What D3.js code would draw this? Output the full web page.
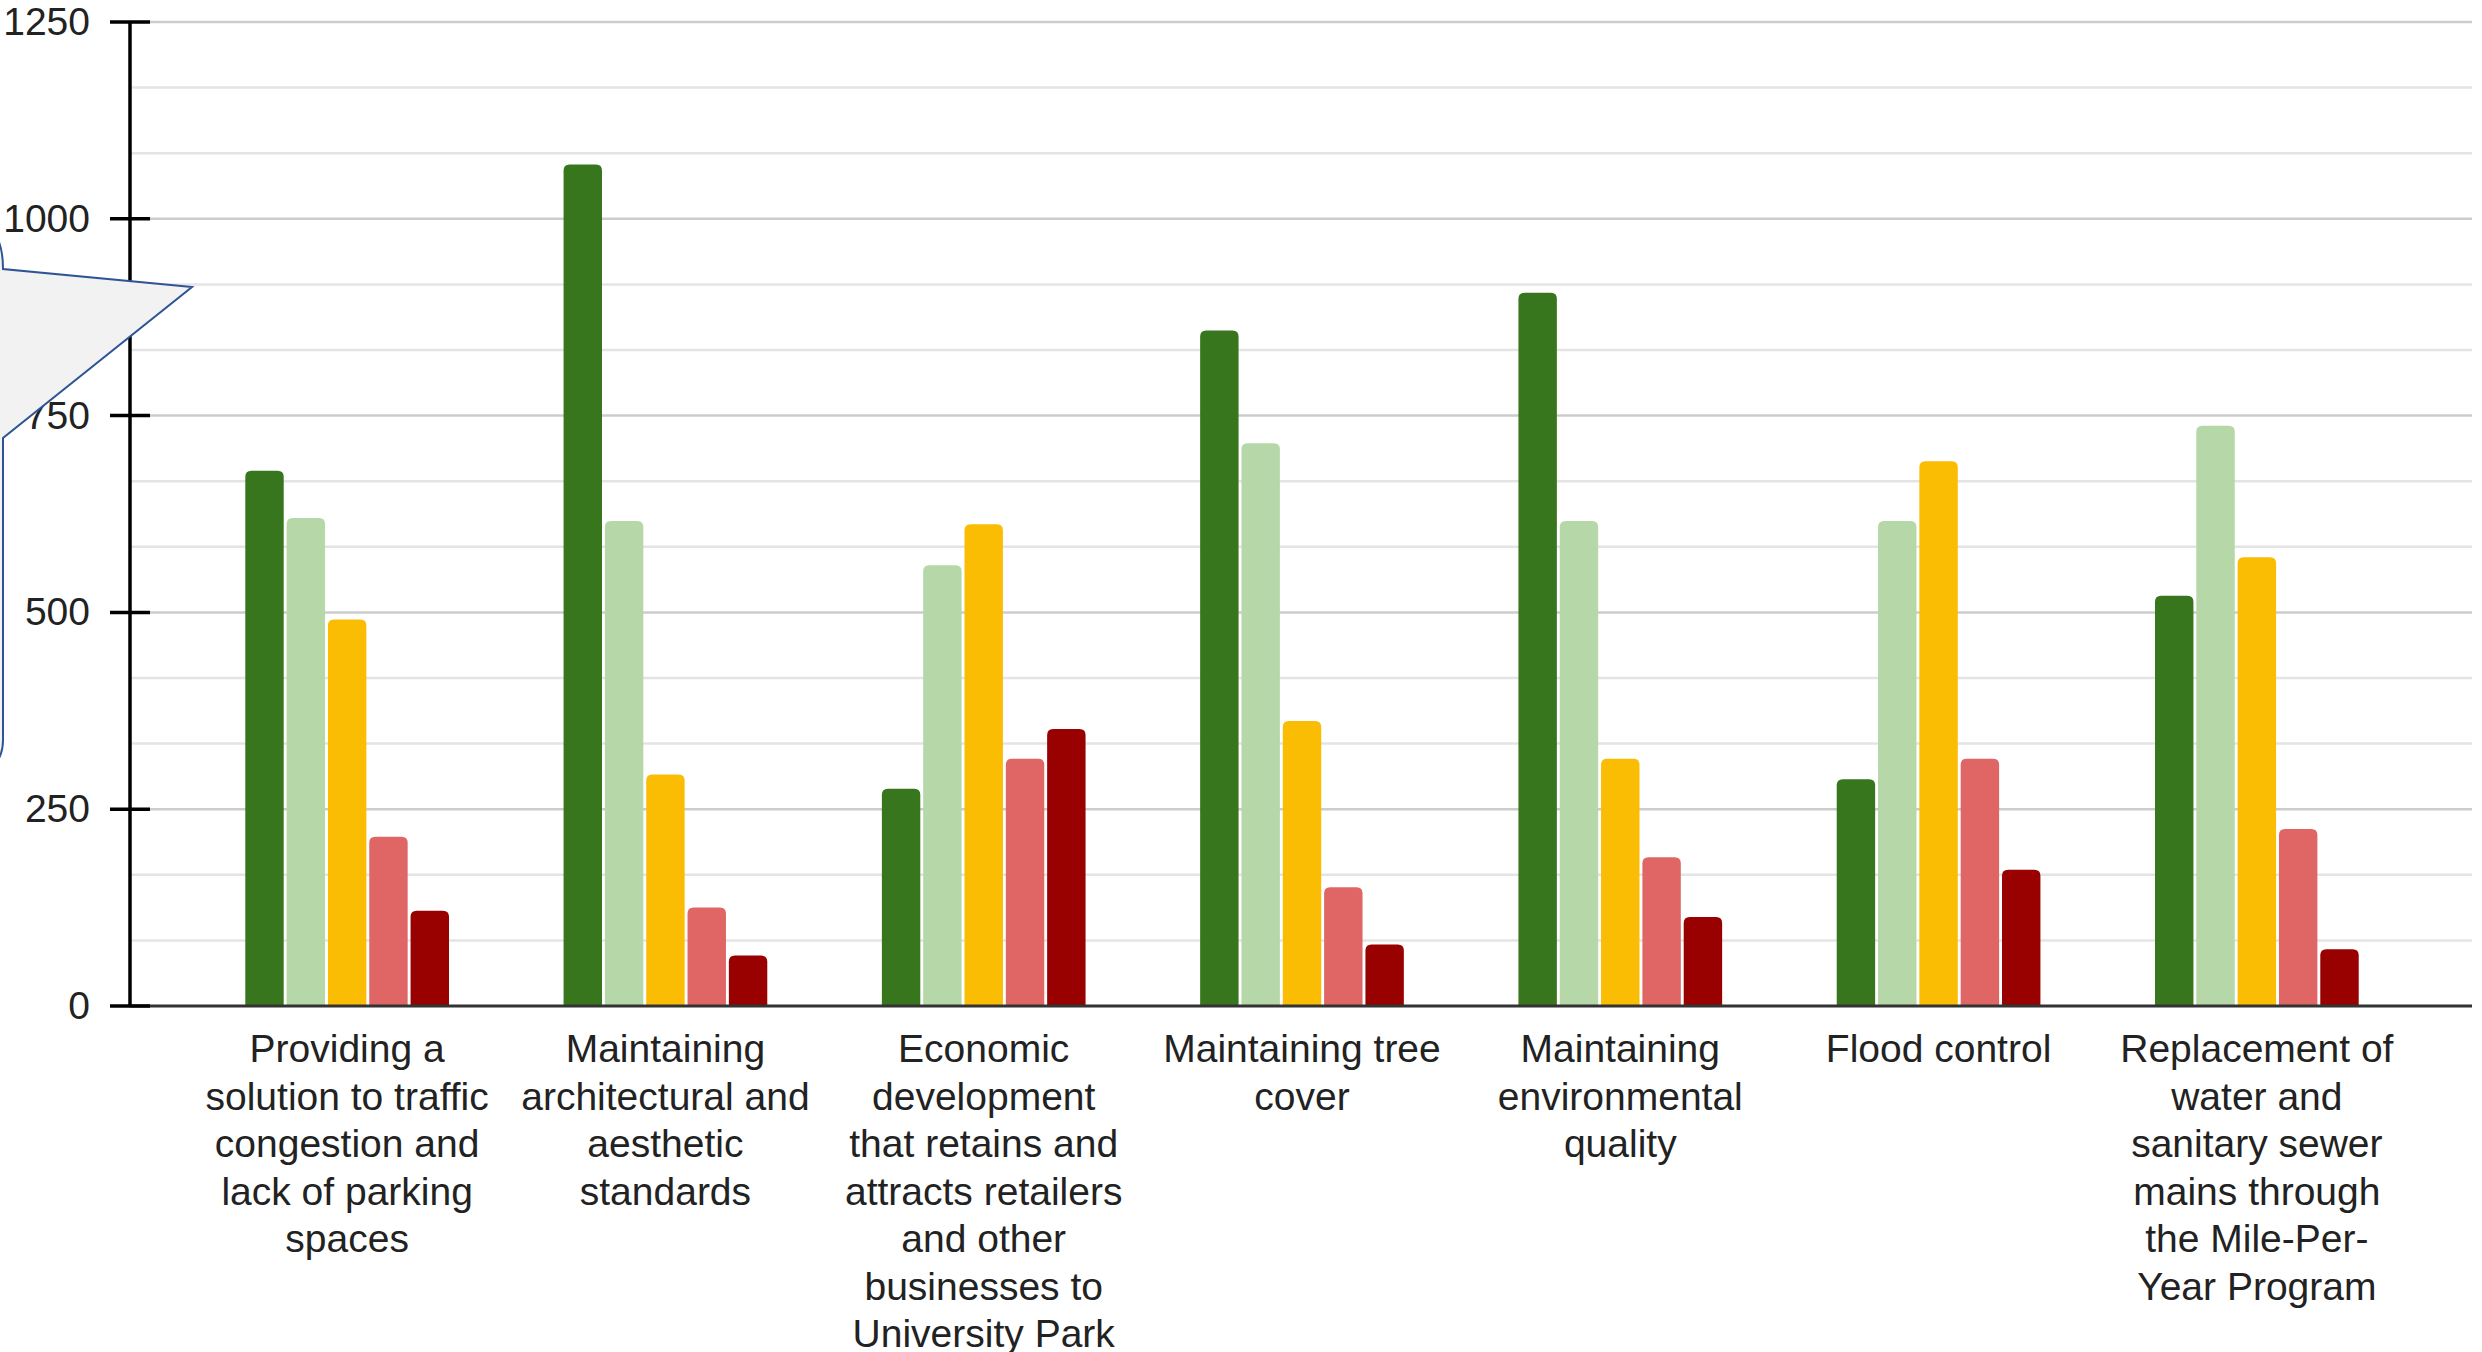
<!DOCTYPE html>
<html>
<head>
<meta charset="utf-8">
<script src="https://cdn.jsdelivr.net/npm/d3@7"></script>
<style>
  html, body { margin: 0; padding: 0; background: #fff; }
  svg { display: block; }
  text { font-family: "Liberation Sans", Arial, sans-serif; }
</style>
</head>
<body>
<svg id="chart" width="2482" height="1352"></svg>
<script>
// ---- data ----
const categories = [
  ["Providing a", "solution to traffic", "congestion and", "lack of parking", "spaces"],
  ["Maintaining", "architectural and", "aesthetic", "standards"],
  ["Economic", "development", "that retains and", "attracts retailers", "and other", "businesses to", "University Park"],
  ["Maintaining tree", "cover"],
  ["Maintaining", "environmental", "quality"],
  ["Flood control"],
  ["Replacement of", "water and", "sanitary sewer", "mains through", "the Mile-Per-", "Year Program"]
];
const seriesNames = ["s1", "s2", "s3", "s4", "s5"];
const series1 = [680, 1069, 276, 858, 906, 288, 521];
const series2 = [620, 616, 560, 715, 616, 616, 737];
const series3 = [491, 294, 612, 362, 314, 692, 570];
const series4 = [215, 125, 314, 151, 189, 314, 225];
const series5 = [121, 64, 352, 78, 113, 173, 72];
const seriesValues = [series1, series2, series3, series4, series5];
const colors = ["#38761d", "#b6d7a8", "#fbbc04", "#e06666", "#990000"];
const yTicks = [0, 250, 500, 750, 1000, 1250];

// ---- layout ----
const svg = d3.select("#chart");
const axisX = 130, plotRight = 2472;
const y = d3.scaleLinear().domain([0, 1250]).range([1006, 22]);
const x0 = d3.scaleBand().domain(d3.range(categories.length)).range([188, 2416]).paddingInner(0.36).paddingOuter(0.18);
const x1 = d3.scaleBand().domain(d3.range(seriesNames.length)).range([0, x0.bandwidth()]).paddingInner(0.07);

// minor gridlines
const minor = d3.range(0, 1250 + 1e-6, 250 / 3).filter(v => Math.abs(v / 250 - Math.round(v / 250)) > 1e-6);
svg.append("g").selectAll("line").data(minor).join("line")
  .attr("x1", axisX).attr("x2", plotRight)
  .attr("y1", d => y(d)).attr("y2", d => y(d))
  .attr("stroke", "#e4e4e4").attr("stroke-width", 2.5);
// major gridlines
svg.append("g").selectAll("line").data(yTicks.filter(d => d > 0)).join("line")
  .attr("x1", axisX).attr("x2", plotRight)
  .attr("y1", d => y(d)).attr("y2", d => y(d))
  .attr("stroke", "#cccccc").attr("stroke-width", 2.5);

// bars with rounded tops
function barPath(xl, w, yt, yb, r) {
  r = Math.min(r, (yb - yt) / 2, w / 2);
  return `M${xl},${yb} L${xl},${yt + r} Q${xl},${yt} ${xl + r},${yt} L${xl + w - r},${yt} Q${xl + w},${yt} ${xl + w},${yt + r} L${xl + w},${yb} Z`;
}
const groups = svg.append("g").selectAll("g").data(categories).join("g")
  .attr("transform", (d, i) => `translate(${x0(i)},0)`);
groups.selectAll("path").data((d, i) => seriesValues.map((s, k) => ({k, v: s[i]}))).join("path")
  .attr("d", d => barPath(x1(d.k), x1.bandwidth(), y(d.v), y(0), 6))
  .attr("fill", d => colors[d.k]);

// x baseline
svg.append("line").attr("x1", axisX).attr("x2", plotRight)
  .attr("y1", y(0)).attr("y2", y(0)).attr("stroke", "#333").attr("stroke-width", 3);

// y axis
const yAxis = d3.axisLeft(y).tickValues(yTicks).tickFormat(d3.format("d")).tickSize(0).tickPadding(40);
const ya = svg.append("g").attr("transform", `translate(${axisX},0)`).call(yAxis);
ya.select(".domain").remove();
ya.selectAll("text").attr("font-size", 39).attr("fill", "#222")
  .attr("font-family", "Liberation Sans, Arial, sans-serif");
svg.append("line").attr("x1", axisX).attr("x2", axisX).attr("y1", y(1250)).attr("y2", y(0))
  .attr("stroke", "#000").attr("stroke-width", 3.5);
svg.append("g").selectAll("line").data(yTicks).join("line")
  .attr("x1", axisX - 20).attr("x2", axisX + 20)
  .attr("y1", d => y(d)).attr("y2", d => y(d))
  .attr("stroke", "#000").attr("stroke-width", 3.5);

// category labels
const lab = svg.append("g").selectAll("text").data(categories).join("text")
  .attr("x", (d, i) => x0(i) + x0.bandwidth() / 2)
  .attr("y", 1062)
  .attr("text-anchor", "middle").attr("font-size", 39).attr("fill", "#222");
lab.selectAll("tspan").data(d => d).join("tspan")
  .attr("x", function() { return this.parentNode.getAttribute("x"); })
  .attr("dy", (d, j) => j === 0 ? 0 : 47.5)
  .text(d => d);

// callout shape on the left
svg.append("path")
  .attr("d", "M-20,222 Q3,230 3,269 L192,287 L3,438 L3,740 Q3,765 -20,775 Z")
  .attr("fill", "#f2f2f2").attr("stroke", "#2f5496").attr("stroke-width", 2);
</script>
</body>
</html>
